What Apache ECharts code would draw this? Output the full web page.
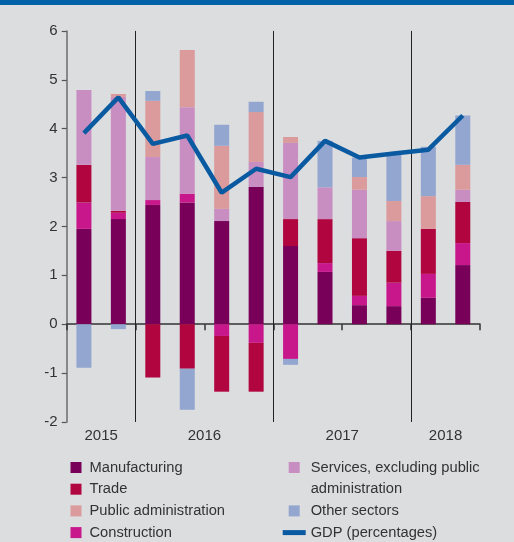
<!DOCTYPE html>
<html>
<head>
<meta charset="utf-8">
<script src="https://cdn.jsdelivr.net/npm/echarts@6/dist/echarts.min.js"></script>
<style>
html,body{margin:0;padding:0;background:#dcdddf;}
#chart{width:514px;height:542px;}
</style>
</head>
<body>
<div id="chart"></div>
<script>
// ---- data ----
var categories = ['2015 Q3','2015 Q4','2016 Q1','2016 Q2','2016 Q3','2016 Q4','2017 Q1','2017 Q2','2017 Q3','2017 Q4','2018 Q1','2018 Q2'];
var manufacturing = [1.95, 2.15, 2.44, 2.49, 2.11, 2.81, 1.60, 1.07, 0.39, 0.37, 0.54, 1.21];
var construction  = [0.54, 0.13, 0.10, 0.18, -0.24, -0.38, -0.71, 0.18, 0.19, 0.48, 0.49, 0.45];
var trade         = [0.77, 0.04, -1.09, -0.91, -1.14, -1.00, 0.55, 0.90, 1.18, 0.65, 0.92, 0.84];
var services      = [1.53, 2.33, 0.88, 1.77, 0.25, 0.51, 1.56, 0.65, 0.99, 0.61, 0.00, 0.25];
var publicAdmin   = [0.00, 0.06, 1.15, 1.17, 1.29, 1.02, 0.12, 0.00, 0.26, 0.41, 0.67, 0.51];
var otherSectors  = [-0.89, -0.10, 0.20, -0.84, 0.43, 0.21, -0.12, 0.95, 0.40, 0.98, 1.01, 1.01];
var gdp           = [3.91, 4.64, 3.69, 3.86, 2.69, 3.18, 3.01, 3.75, 3.41, 3.49, 3.57, 4.27];
var yearLabels = ['2015','2016','2017','2018'];
var yTicks = {min: -2, max: 6, interval: 1};

// ---- derived year groups ----
var yearCenters = {}, yearBoundaries = [];
(function(){
  var start = 0;
  yearLabels.forEach(function(y, k){
    var n = categories.filter(function(c){ return c.indexOf(y) === 0; }).length;
    yearCenters[start + n/2] = y;
    if (k > 0) yearBoundaries.push(start);
    start += n;
  });
})();

var FONT = 'Liberation Sans';
var TXT = '#333333';
var FS = 14.7;
var LH = 21.7;
var sq = 'path://M0,0H11V11H0Z';
var SERV = 'Services, excluding public administration';

function bar(name, data, color){
  return {name: name, type: 'bar', stack: 'total', data: data, barWidth: 15,
          itemStyle: {color: color}, xAxisIndex: 0, yAxisIndex: 0};
}

var chart = echarts.init(document.getElementById('chart'), null, {renderer: 'canvas'});
chart.setOption({
  animation: false,
  backgroundColor: '#dcdddf',
  textStyle: {fontFamily: FONT},
  graphic: [{type: 'rect', shape: {x: 0, y: 0, width: 514, height: 5}, style: {fill: '#0061a9'}, z: 10}],
  grid: {left: 66.7, right: 34, top: 30.9, bottom: 120},
  xAxis: [{
    type: 'category', data: categories, position: 'bottom',
    axisLine: {onZero: true, lineStyle: {color: '#333', width: 1.5}},
    axisTick: {show: true, length: 6, lineStyle: {color: '#333', width: 1.5}},
    axisLabel: {show: false}, splitLine: {show: false}
  }, {
    type: 'value', min: 0, max: categories.length, interval: 1, position: 'bottom',
    axisLine: {show: false}, axisTick: {show: false}, splitLine: {show: false},
    axisLabel: {show: true, margin: 6, color: TXT, fontSize: 15, fontFamily: FONT,
      showMinLabel: true, showMaxLabel: true,
      formatter: function(v){ return yearCenters[v] || ''; }}
  }],
  yAxis: {
    type: 'value', min: yTicks.min, max: yTicks.max, interval: yTicks.interval,
    axisLine: {show: true, lineStyle: {color: '#6b6b6b', width: 1.5}},
    axisTick: {show: true, length: 5, lineStyle: {color: '#555', width: 1.2}},
    axisLabel: {margin: 9, color: TXT, fontSize: 15, fontFamily: FONT},
    splitLine: {show: false}
  },
  legend: [{
    orient: 'vertical', left: 70.5, top: 456.65, height: 120, padding: 0,
    itemWidth: 17, itemHeight: 11, itemGap: 0,
    symbolKeepAspect: true, selectedMode: false,
    textStyle: {fontSize: FS, lineHeight: LH, color: TXT, fontFamily: FONT},
    data: [
      {name: 'Manufacturing', icon: sq},
      {name: 'Trade', icon: sq},
      {name: 'Public administration', icon: sq},
      {name: 'Construction', icon: sq}
    ]
  }, {
    orient: 'vertical', left: 282.7, top: 434.95, height: 150, padding: 0,
    itemWidth: 23, itemHeight: 11, itemGap: 0,
    symbolKeepAspect: true, selectedMode: false,
    textStyle: {fontSize: FS, lineHeight: LH, color: TXT, fontFamily: FONT},
    formatter: function(n){ return n === SERV ? ' \nServices, excluding public\nadministration' : n; },
    data: [
      {name: SERV, icon: sq},
      {name: 'Other sectors', icon: sq},
      {name: 'GDP (percentages)', icon: 'path://M0,0H23V5H0Z'}
    ]
  }],
  series: [
    bar('Manufacturing', manufacturing, '#780059'),
    bar('Construction', construction, '#c8178b'),
    bar('Trade', trade, '#b0053f'),
    bar(SERV, services, '#c98ec1'),
    bar('Public administration', publicAdmin, '#db9a9b'),
    bar('Other sectors', otherSectors, '#93a6d0'),
    {name: 'GDP (percentages)', type: 'line', data: gdp, symbol: 'none', z: 5,
     itemStyle: {color: '#0a5aa2'}, lineStyle: {color: '#0a5aa2', width: 4.5}},
    {name: 'sep', type: 'scatter', xAxisIndex: 1, yAxisIndex: 0, data: [[0, 0]], symbolSize: 0, silent: true,
     markLine: {silent: true, symbol: 'none', label: {show: false},
       lineStyle: {color: '#222', width: 1, type: 'solid'},
       data: yearBoundaries.map(function(b){ return {xAxis: b}; })}}
  ]
});
</script>
</body>
</html>
